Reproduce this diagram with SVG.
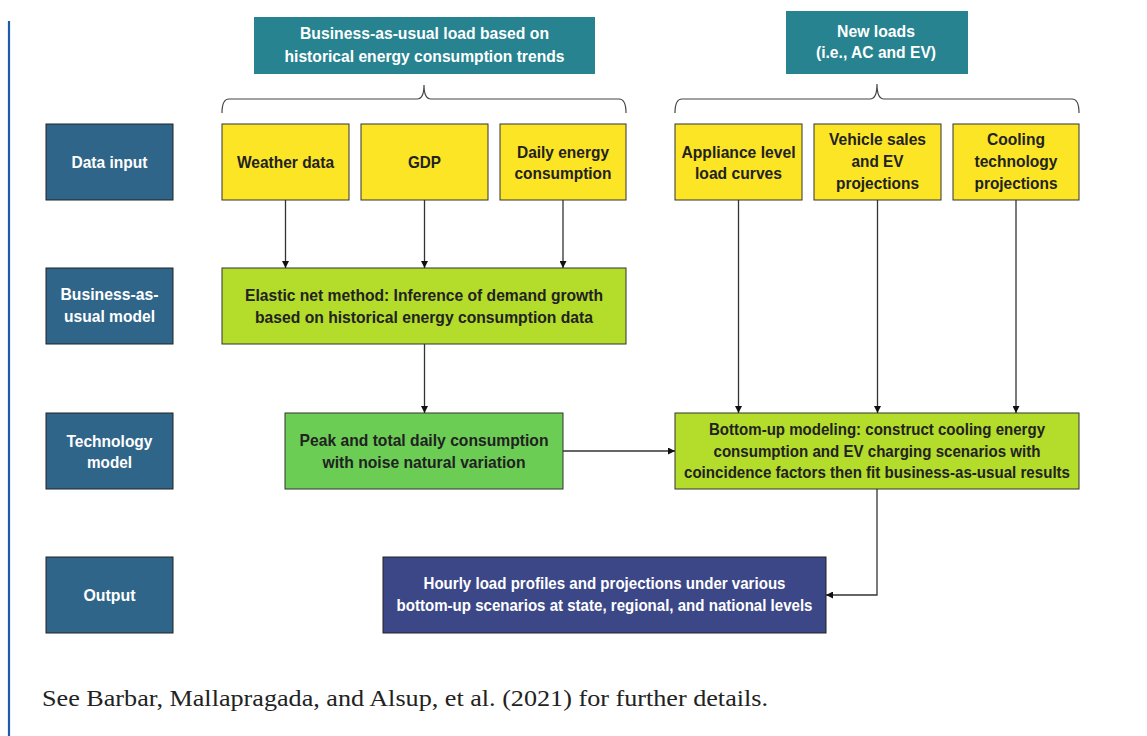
<svg xmlns="http://www.w3.org/2000/svg" width="1147" height="736" viewBox="0 0 1147 736">
<style>
.t{font-family:"Liberation Sans Narrow","Arial Narrow","Liberation Sans",Arial,sans-serif;font-weight:bold;font-size:16.5px;text-anchor:middle;dominant-baseline:central}
.w{fill:#ffffff}
.d{fill:#222222}
.lab{fill:#2f6589;stroke:#222;stroke-width:1}
.yel{fill:#fce524;stroke:#333;stroke-width:1}
.lime{fill:#b4dc2a;stroke:#333;stroke-width:1}
.grn{fill:#6ccd55;stroke:#333;stroke-width:1}
.navy{fill:#3c4787;stroke:#222;stroke-width:1}
.teal{fill:#26838f}
.c{fill:none;stroke:#333;stroke-width:1.3}
.br{fill:none;stroke:#444;stroke-width:1.2}
</style>
<defs>
<marker id="ah" viewBox="0 0 10 10" refX="10" refY="5" markerWidth="7" markerHeight="7" markerUnits="userSpaceOnUse" orient="auto">
<path d="M0,0 L10,5 L0,10 z" fill="#111"/>
</marker>
</defs>
<rect width="1147" height="736" fill="#ffffff"/>
<line x1="9" y1="21" x2="9" y2="736" stroke="#1f5ca6" stroke-width="2.2"/>

<g id="hdr-bau">
<rect class="teal" x="254" y="17" width="341" height="57"/>
<text class="t w" x="424.5" y="33" textLength="249" lengthAdjust="spacingAndGlyphs">Business-as-usual load based on</text>
<text class="t w" x="424.5" y="56" textLength="280" lengthAdjust="spacingAndGlyphs">historical energy consumption trends</text>
</g>
<g id="hdr-new">
<rect class="teal" x="786" y="11" width="182" height="63"/>
<text class="t w" x="876" y="31" textLength="78" lengthAdjust="spacingAndGlyphs">New loads</text>
<text class="t w" x="876" y="52" textLength="120" lengthAdjust="spacingAndGlyphs">(i.e., AC and EV)</text>
</g>
<g id="brace-bau">
<path class="br" d="M222,113 Q222,99 229,99 L417,99 Q424,99 424,85 Q424,99 431,99 L619,99 Q626,99 626,113"/>
</g>
<g id="brace-new">
<path class="br" d="M675,113 Q675,99 682,99 L870,99 Q877,99 877,84 Q877,99 884,99 L1072,99 Q1079,99 1079,113"/>
</g>

<g id="lab-data">
<rect class="lab" x="46" y="124" width="127" height="76"/>
<text class="t w" x="109.5" y="162" textLength="76" lengthAdjust="spacingAndGlyphs">Data input</text>
</g>
<g id="lab-bau">
<rect class="lab" x="46" y="268" width="127" height="76"/>
<text class="t w" x="109.5" y="294" textLength="98" lengthAdjust="spacingAndGlyphs">Business-as-</text>
<text class="t w" x="109.5" y="316" textLength="91" lengthAdjust="spacingAndGlyphs">usual model</text>
</g>
<g id="lab-tech">
<rect class="lab" x="46" y="413" width="127" height="76"/>
<text class="t w" x="109.5" y="441" textLength="86" lengthAdjust="spacingAndGlyphs">Technology</text>
<text class="t w" x="109.5" y="462" textLength="45" lengthAdjust="spacingAndGlyphs">model</text>
</g>
<g id="lab-out">
<rect class="lab" x="46" y="557" width="127" height="76"/>
<text class="t w" x="109.5" y="595" textLength="52" lengthAdjust="spacingAndGlyphs">Output</text>
</g>

<g id="weather">
<rect class="yel" x="222" y="124" width="127" height="76"/>
<text class="t d" x="285.5" y="162" textLength="97" lengthAdjust="spacingAndGlyphs">Weather data</text>
</g>
<g id="gdp">
<rect class="yel" x="361" y="124" width="127" height="76"/>
<text class="t d" x="424.5" y="162" textLength="33" lengthAdjust="spacingAndGlyphs">GDP</text>
</g>
<g id="daily">
<rect class="yel" x="500" y="124" width="126" height="76"/>
<text class="t d" x="563" y="152" textLength="92" lengthAdjust="spacingAndGlyphs">Daily energy</text>
<text class="t d" x="563" y="173" textLength="97" lengthAdjust="spacingAndGlyphs">consumption</text>
</g>
<g id="appliance">
<rect class="yel" x="675" y="124" width="127" height="76"/>
<text class="t d" x="738.5" y="152" textLength="114" lengthAdjust="spacingAndGlyphs">Appliance level</text>
<text class="t d" x="738.5" y="173" textLength="87" lengthAdjust="spacingAndGlyphs">load curves</text>
</g>
<g id="vehicle">
<rect class="yel" x="814" y="124" width="127" height="76"/>
<text class="t d" x="877.5" y="139" textLength="97" lengthAdjust="spacingAndGlyphs">Vehicle sales</text>
<text class="t d" x="877.5" y="161" textLength="52" lengthAdjust="spacingAndGlyphs">and EV</text>
<text class="t d" x="877.5" y="183" textLength="83" lengthAdjust="spacingAndGlyphs">projections</text>
</g>
<g id="cooling">
<rect class="yel" x="953" y="124" width="126" height="76"/>
<text class="t d" x="1016" y="139" textLength="58" lengthAdjust="spacingAndGlyphs">Cooling</text>
<text class="t d" x="1016" y="161" textLength="83" lengthAdjust="spacingAndGlyphs">technology</text>
<text class="t d" x="1016" y="183" textLength="83" lengthAdjust="spacingAndGlyphs">projections</text>
</g>

<g id="elastic">
<rect class="lime" x="222" y="268" width="404" height="76"/>
<text class="t d" x="424" y="295" textLength="358" lengthAdjust="spacingAndGlyphs">Elastic net method: Inference of demand growth</text>
<text class="t d" x="424" y="317" textLength="338" lengthAdjust="spacingAndGlyphs">based on historical energy consumption data</text>
</g>
<g id="peak">
<rect class="grn" x="285" y="413" width="278" height="76"/>
<text class="t d" x="424" y="440" textLength="249" lengthAdjust="spacingAndGlyphs">Peak and total daily consumption</text>
<text class="t d" x="424" y="462" textLength="203" lengthAdjust="spacingAndGlyphs">with noise natural variation</text>
</g>
<g id="bottomup">
<rect class="lime" x="675" y="413" width="404" height="76"/>
<text class="t d" x="877" y="429" textLength="336" lengthAdjust="spacingAndGlyphs">Bottom-up modeling: construct cooling energy</text>
<text class="t d" x="877" y="451" textLength="327" lengthAdjust="spacingAndGlyphs">consumption and EV charging scenarios with</text>
<text class="t d" x="877" y="472" textLength="386" lengthAdjust="spacingAndGlyphs">coincidence factors then fit business-as-usual results</text>
</g>
<g id="hourly">
<rect class="navy" x="383" y="557" width="443" height="76"/>
<text class="t w" x="604.5" y="583" textLength="362" lengthAdjust="spacingAndGlyphs">Hourly load profiles and projections under various</text>
<text class="t w" x="604.5" y="605" textLength="416" lengthAdjust="spacingAndGlyphs">bottom-up scenarios at state, regional, and national levels</text>
</g>

<g id="connectors">
<line class="c" x1="285.5" y1="200" x2="285.5" y2="268" marker-end="url(#ah)"/>
<line class="c" x1="424.5" y1="200" x2="424.5" y2="268" marker-end="url(#ah)"/>
<line class="c" x1="563" y1="200" x2="563" y2="268" marker-end="url(#ah)"/>
<line class="c" x1="424.5" y1="344" x2="424.5" y2="413" marker-end="url(#ah)"/>
<line class="c" x1="738.5" y1="200" x2="738.5" y2="413" marker-end="url(#ah)"/>
<line class="c" x1="877.5" y1="200" x2="877.5" y2="413" marker-end="url(#ah)"/>
<line class="c" x1="1016" y1="200" x2="1016" y2="413" marker-end="url(#ah)"/>
<line class="c" x1="563" y1="451" x2="675" y2="451" marker-end="url(#ah)"/>
<polyline class="c" points="877,489 877,595 826,595" marker-end="url(#ah)"/>
</g>

<text x="42" y="706" font-family="'Liberation Serif','Times New Roman',serif" font-size="23" fill="#222" textLength="726" lengthAdjust="spacingAndGlyphs">See Barbar, Mallapragada, and Alsup, et al. (2021) for further details.</text>
</svg>
